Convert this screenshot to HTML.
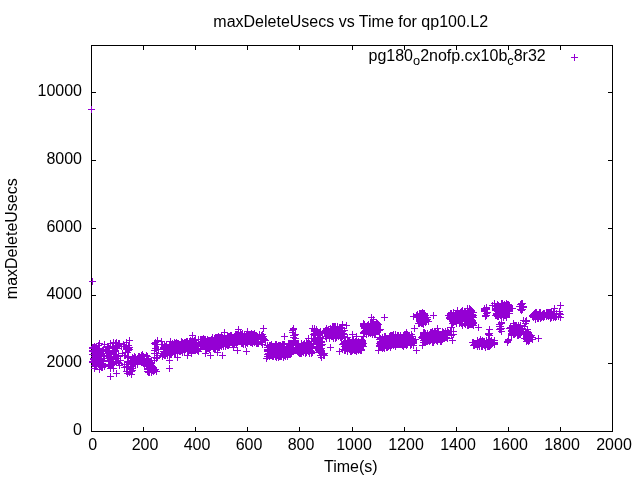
<!DOCTYPE html>
<html><head><meta charset="utf-8">
<style>
html,body{margin:0;padding:0;background:#fff;width:640px;height:480px;overflow:hidden}
svg{display:block;will-change:transform}
text{font-family:"Liberation Sans",sans-serif;font-size:16px;fill:#000}
</style></head><body>
<svg width="640" height="480" viewBox="0 0 640 480">
<rect width="640" height="480" fill="#fff"/>
<g stroke="#000" stroke-width="1" fill="none" shape-rendering="crispEdges">
<path d="M91.5 45.5H612.5V431.5H91.5Z"/>
<path d="M92 363.5h4M608 363.5h4M92 295.5h4M608 295.5h4M92 228.5h4M608 228.5h4M92 160.5h4M608 160.5h4M92 92.5h4M608 92.5h4M143.5 427v4M143.5 46v4M195.5 427v4M195.5 46v4M247.5 427v4M247.5 46v4M299.5 427v4M299.5 46v4M352.5 427v4M352.5 46v4M404.5 427v4M404.5 46v4M456.5 427v4M456.5 46v4M508.5 427v4M508.5 46v4M560.5 427v4M560.5 46v4"/>
</g>
<g text-anchor="end">
<text x="82" y="435">0</text>
<text x="82" y="367">2000</text>
<text x="82" y="299">4000</text>
<text x="82" y="232">6000</text>
<text x="82" y="164">8000</text>
<text x="82" y="96">10000</text>
</g>
<g text-anchor="middle">
<text x="92.6" y="450">0</text>
<text x="145" y="450">200</text>
<text x="197" y="450">400</text>
<text x="249" y="450">600</text>
<text x="301" y="450">800</text>
<text x="354" y="450">1000</text>
<text x="406" y="450">1200</text>
<text x="458" y="450">1400</text>
<text x="510" y="450">1600</text>
<text x="562" y="450">1800</text>
<text x="614" y="450">2000</text>
<text x="350.7" y="26.7">maxDeleteUsecs vs Time for qp100.L2</text>
<text x="350.8" y="472">Time(s)</text>
</g>
<text transform="translate(17,238.7) rotate(-90)" text-anchor="middle">maxDeleteUsecs</text>
<text x="368.5" y="60.5">pg180<tspan dy="4.5" font-size="12.8">o</tspan><tspan dy="-4.5">2nofp.cx10b</tspan><tspan dy="4.5" font-size="12.8">c</tspan><tspan dy="-4.5">8r32</tspan></text>
<g stroke="#9400d3" stroke-width="1" fill="none" shape-rendering="crispEdges">
<path d="M571 57.5h7M574.5 54v7"/>
<path d="M88 109.5h7M91.5 106v7M89 281.5h7M92.5 278v7M89 347.5h7M92.5 344v7M89 348.5h7M92.5 345v7M89 350.5h7M92.5 347v7M89 351.5h7M92.5 348v7M89 354.5h7M92.5 351v7M89 361.5h7M92.5 358v7M89 362.5h7M92.5 359v7M90 347.5h7M93.5 344v7M90 354.5h7M93.5 351v7M90 358.5h7M93.5 355v7M90 359.5h7M93.5 356v7M91 346.5h7M94.5 343v7M91 352.5h7M94.5 349v7M91 356.5h7M94.5 353v7M91 359.5h7M94.5 356v7M91 360.5h7M94.5 357v7M91 361.5h7M94.5 358v7M91 365.5h7M94.5 362v7M91 368.5h7M94.5 365v7M92 347.5h7M95.5 344v7M92 352.5h7M95.5 349v7M92 355.5h7M95.5 352v7M92 358.5h7M95.5 355v7M92 359.5h7M95.5 356v7M92 360.5h7M95.5 357v7M92 362.5h7M95.5 359v7M92 363.5h7M95.5 360v7M92 366.5h7M95.5 363v7M93 347.5h7M96.5 344v7M93 349.5h7M96.5 346v7M93 352.5h7M96.5 349v7M93 359.5h7M96.5 356v7M93 362.5h7M96.5 359v7M93 364.5h7M96.5 361v7M93 365.5h7M96.5 362v7M93 366.5h7M96.5 363v7M94 348.5h7M97.5 345v7M94 352.5h7M97.5 349v7M94 353.5h7M97.5 350v7M94 357.5h7M97.5 354v7M95 345.5h7M98.5 342v7M95 350.5h7M98.5 347v7M95 353.5h7M98.5 350v7M95 354.5h7M98.5 351v7M95 357.5h7M98.5 354v7M95 358.5h7M98.5 355v7M95 359.5h7M98.5 356v7M95 362.5h7M98.5 359v7M95 364.5h7M98.5 361v7M96 343.5h7M99.5 340v7M96 351.5h7M99.5 348v7M96 354.5h7M99.5 351v7M96 361.5h7M99.5 358v7M96 364.5h7M99.5 361v7M96 369.5h7M99.5 366v7M97 352.5h7M100.5 349v7M97 354.5h7M100.5 351v7M97 359.5h7M100.5 356v7M97 360.5h7M100.5 357v7M97 365.5h7M100.5 362v7M98 351.5h7M101.5 348v7M98 355.5h7M101.5 352v7M98 358.5h7M101.5 355v7M98 364.5h7M101.5 361v7M98 367.5h7M101.5 364v7M99 350.5h7M102.5 347v7M99 363.5h7M102.5 360v7M99 365.5h7M102.5 362v7M99 367.5h7M102.5 364v7M100 349.5h7M103.5 346v7M100 358.5h7M103.5 355v7M100 360.5h7M103.5 357v7M100 361.5h7M103.5 358v7M101 344.5h7M104.5 341v7M101 356.5h7M104.5 353v7M101 366.5h7M104.5 363v7M103 353.5h7M106.5 350v7M103 355.5h7M106.5 352v7M104 347.5h7M107.5 344v7M104 356.5h7M107.5 353v7M104 358.5h7M107.5 355v7M105 346.5h7M108.5 343v7M105 347.5h7M108.5 344v7M105 348.5h7M108.5 345v7M105 351.5h7M108.5 348v7M105 352.5h7M108.5 349v7M105 364.5h7M108.5 361v7M106 348.5h7M109.5 345v7M106 350.5h7M109.5 347v7M106 351.5h7M109.5 348v7M106 357.5h7M109.5 354v7M106 360.5h7M109.5 357v7M106 365.5h7M109.5 362v7M107 343.5h7M110.5 340v7M107 353.5h7M110.5 350v7M107 356.5h7M110.5 353v7M107 357.5h7M110.5 354v7M107 360.5h7M110.5 357v7M107 365.5h7M110.5 362v7M107 368.5h7M110.5 365v7M107 376.5h7M110.5 373v7M108 354.5h7M111.5 351v7M108 356.5h7M111.5 353v7M108 359.5h7M111.5 356v7M108 365.5h7M111.5 362v7M109 347.5h7M112.5 344v7M109 361.5h7M112.5 358v7M109 362.5h7M112.5 359v7M109 363.5h7M112.5 360v7M109 364.5h7M112.5 361v7M110 342.5h7M113.5 339v7M110 343.5h7M113.5 340v7M110 348.5h7M113.5 345v7M110 350.5h7M113.5 347v7M110 352.5h7M113.5 349v7M110 357.5h7M113.5 354v7M110 358.5h7M113.5 355v7M110 359.5h7M113.5 356v7M110 361.5h7M113.5 358v7M110 368.5h7M113.5 365v7M111 348.5h7M114.5 345v7M111 351.5h7M114.5 348v7M111 354.5h7M114.5 351v7M112 343.5h7M115.5 340v7M112 346.5h7M115.5 343v7M112 348.5h7M115.5 345v7M112 350.5h7M115.5 347v7M112 351.5h7M115.5 348v7M112 358.5h7M115.5 355v7M112 359.5h7M115.5 356v7M113 342.5h7M116.5 339v7M113 347.5h7M116.5 344v7M113 355.5h7M116.5 352v7M113 356.5h7M116.5 353v7M113 361.5h7M116.5 358v7M113 373.5h7M116.5 370v7M114 345.5h7M117.5 342v7M114 346.5h7M117.5 343v7M114 348.5h7M117.5 345v7M114 358.5h7M117.5 355v7M115 343.5h7M118.5 340v7M115 344.5h7M118.5 341v7M115 355.5h7M118.5 352v7M115 356.5h7M118.5 353v7M115 360.5h7M118.5 357v7M115 362.5h7M118.5 359v7M116 343.5h7M119.5 340v7M116 363.5h7M119.5 360v7M116 365.5h7M119.5 362v7M117 360.5h7M120.5 357v7M118 346.5h7M121.5 343v7M119 353.5h7M122.5 350v7M120 344.5h7M123.5 341v7M121 346.5h7M124.5 343v7M121 355.5h7M124.5 352v7M121 364.5h7M124.5 361v7M121 367.5h7M124.5 364v7M122 352.5h7M125.5 349v7M122 355.5h7M125.5 352v7M123 342.5h7M126.5 339v7M123 347.5h7M126.5 344v7M123 348.5h7M126.5 345v7M123 349.5h7M126.5 346v7M123 366.5h7M126.5 363v7M123 371.5h7M126.5 368v7M124 352.5h7M127.5 349v7M124 356.5h7M127.5 353v7M124 361.5h7M127.5 358v7M124 367.5h7M127.5 364v7M124 371.5h7M127.5 368v7M124 373.5h7M127.5 370v7M125 345.5h7M128.5 342v7M125 348.5h7M128.5 345v7M125 350.5h7M128.5 347v7M125 357.5h7M128.5 354v7M125 362.5h7M128.5 359v7M125 364.5h7M128.5 361v7M126 340.5h7M129.5 337v7M126 347.5h7M129.5 344v7M126 349.5h7M129.5 346v7M126 372.5h7M129.5 369v7M127 360.5h7M130.5 357v7M127 361.5h7M130.5 358v7M127 363.5h7M130.5 360v7M127 364.5h7M130.5 361v7M127 368.5h7M130.5 365v7M127 369.5h7M130.5 366v7M128 363.5h7M131.5 360v7M128 364.5h7M131.5 361v7M128 371.5h7M131.5 368v7M128 374.5h7M131.5 371v7M129 357.5h7M132.5 354v7M129 358.5h7M132.5 355v7M129 363.5h7M132.5 360v7M129 368.5h7M132.5 365v7M129 370.5h7M132.5 367v7M130 358.5h7M133.5 355v7M130 359.5h7M133.5 356v7M130 362.5h7M133.5 359v7M130 364.5h7M133.5 361v7M131 356.5h7M134.5 353v7M131 358.5h7M134.5 355v7M131 359.5h7M134.5 356v7M131 360.5h7M134.5 357v7M131 361.5h7M134.5 358v7M131 363.5h7M134.5 360v7M132 357.5h7M135.5 354v7M132 362.5h7M135.5 359v7M132 363.5h7M135.5 360v7M132 364.5h7M135.5 361v7M133 360.5h7M136.5 357v7M134 358.5h7M137.5 355v7M134 363.5h7M137.5 360v7M134 364.5h7M137.5 361v7M135 356.5h7M138.5 353v7M135 360.5h7M138.5 357v7M136 356.5h7M139.5 353v7M136 358.5h7M139.5 355v7M136 359.5h7M139.5 356v7M136 360.5h7M139.5 357v7M136 361.5h7M139.5 358v7M137 359.5h7M140.5 356v7M137 361.5h7M140.5 358v7M138 355.5h7M141.5 352v7M138 356.5h7M141.5 353v7M138 358.5h7M141.5 355v7M138 359.5h7M141.5 356v7M138 362.5h7M141.5 359v7M139 354.5h7M142.5 351v7M139 356.5h7M142.5 353v7M139 361.5h7M142.5 358v7M139 362.5h7M142.5 359v7M140 356.5h7M143.5 353v7M140 358.5h7M143.5 355v7M141 358.5h7M144.5 355v7M141 359.5h7M144.5 356v7M141 360.5h7M144.5 357v7M141 361.5h7M144.5 358v7M141 362.5h7M144.5 359v7M141 363.5h7M144.5 360v7M141 364.5h7M144.5 361v7M143 355.5h7M146.5 352v7M143 356.5h7M146.5 353v7M143 360.5h7M146.5 357v7M143 361.5h7M146.5 358v7M143 365.5h7M146.5 362v7M143 366.5h7M146.5 363v7M144 356.5h7M147.5 353v7M144 361.5h7M147.5 358v7M144 362.5h7M147.5 359v7M144 363.5h7M147.5 360v7M144 366.5h7M147.5 363v7M144 368.5h7M147.5 365v7M144 369.5h7M147.5 366v7M144 371.5h7M147.5 368v7M145 358.5h7M148.5 355v7M145 360.5h7M148.5 357v7M145 361.5h7M148.5 358v7M145 362.5h7M148.5 359v7M145 363.5h7M148.5 360v7M145 364.5h7M148.5 361v7M145 368.5h7M148.5 365v7M145 369.5h7M148.5 366v7M145 371.5h7M148.5 368v7M145 372.5h7M148.5 369v7M146 361.5h7M149.5 358v7M146 363.5h7M149.5 360v7M146 364.5h7M149.5 361v7M146 368.5h7M149.5 365v7M146 372.5h7M149.5 369v7M147 362.5h7M150.5 359v7M147 364.5h7M150.5 361v7M148 360.5h7M151.5 357v7M148 363.5h7M151.5 360v7M148 365.5h7M151.5 362v7M148 366.5h7M151.5 363v7M148 369.5h7M151.5 366v7M148 372.5h7M151.5 369v7M149 366.5h7M152.5 363v7M149 368.5h7M152.5 365v7M149 370.5h7M152.5 367v7M150 367.5h7M153.5 364v7M150 369.5h7M153.5 366v7M150 371.5h7M153.5 368v7M151 343.5h7M154.5 340v7M151 350.5h7M154.5 347v7M151 353.5h7M154.5 350v7M151 357.5h7M154.5 354v7M151 360.5h7M154.5 357v7M151 370.5h7M154.5 367v7M152 342.5h7M155.5 339v7M152 344.5h7M155.5 341v7M152 348.5h7M155.5 345v7M152 369.5h7M155.5 366v7M153 344.5h7M156.5 341v7M153 353.5h7M156.5 350v7M153 358.5h7M156.5 355v7M153 371.5h7M156.5 368v7M154 340.5h7M157.5 337v7M154 344.5h7M157.5 341v7M154 355.5h7M157.5 352v7M154 357.5h7M157.5 354v7M155 349.5h7M158.5 346v7M158 341.5h7M161.5 338v7M159 344.5h7M162.5 341v7M159 356.5h7M162.5 353v7M160 347.5h7M163.5 344v7M160 348.5h7M163.5 345v7M160 351.5h7M163.5 348v7M160 353.5h7M163.5 350v7M160 354.5h7M163.5 351v7M161 345.5h7M164.5 342v7M161 346.5h7M164.5 343v7M161 347.5h7M164.5 344v7M161 348.5h7M164.5 345v7M161 349.5h7M164.5 346v7M161 352.5h7M164.5 349v7M161 353.5h7M164.5 350v7M161 355.5h7M164.5 352v7M162 346.5h7M165.5 343v7M162 351.5h7M165.5 348v7M162 352.5h7M165.5 349v7M162 353.5h7M165.5 350v7M162 355.5h7M165.5 352v7M163 344.5h7M166.5 341v7M163 346.5h7M166.5 343v7M163 348.5h7M166.5 345v7M163 350.5h7M166.5 347v7M163 351.5h7M166.5 348v7M163 353.5h7M166.5 350v7M164 355.5h7M167.5 352v7M165 347.5h7M168.5 344v7M165 350.5h7M168.5 347v7M165 351.5h7M168.5 348v7M166 344.5h7M169.5 341v7M166 347.5h7M169.5 344v7M166 348.5h7M169.5 345v7M166 350.5h7M169.5 347v7M166 351.5h7M169.5 348v7M166 352.5h7M169.5 349v7M166 353.5h7M169.5 350v7M166 360.5h7M169.5 357v7M166 368.5h7M169.5 365v7M167 341.5h7M170.5 338v7M167 347.5h7M170.5 344v7M167 348.5h7M170.5 345v7M167 354.5h7M170.5 351v7M168 345.5h7M171.5 342v7M168 347.5h7M171.5 344v7M168 348.5h7M171.5 345v7M168 354.5h7M171.5 351v7M169 343.5h7M172.5 340v7M169 344.5h7M172.5 341v7M169 345.5h7M172.5 342v7M169 350.5h7M172.5 347v7M169 352.5h7M172.5 349v7M170 344.5h7M173.5 341v7M170 345.5h7M173.5 342v7M170 346.5h7M173.5 343v7M170 351.5h7M173.5 348v7M171 342.5h7M174.5 339v7M171 343.5h7M174.5 340v7M171 346.5h7M174.5 343v7M171 347.5h7M174.5 344v7M171 349.5h7M174.5 346v7M171 350.5h7M174.5 347v7M171 353.5h7M174.5 350v7M172 343.5h7M175.5 340v7M172 345.5h7M175.5 342v7M172 346.5h7M175.5 343v7M172 348.5h7M175.5 345v7M172 350.5h7M175.5 347v7M172 351.5h7M175.5 348v7M172 353.5h7M175.5 350v7M173 342.5h7M176.5 339v7M173 346.5h7M176.5 343v7M173 347.5h7M176.5 344v7M173 350.5h7M176.5 347v7M174 343.5h7M177.5 340v7M174 344.5h7M177.5 341v7M174 347.5h7M177.5 344v7M174 348.5h7M177.5 345v7M174 351.5h7M177.5 348v7M174 353.5h7M177.5 350v7M174 357.5h7M177.5 354v7M175 343.5h7M178.5 340v7M175 349.5h7M178.5 346v7M176 345.5h7M179.5 342v7M176 346.5h7M179.5 343v7M176 349.5h7M179.5 346v7M176 351.5h7M179.5 348v7M177 346.5h7M180.5 343v7M177 347.5h7M180.5 344v7M177 349.5h7M180.5 346v7M177 351.5h7M180.5 348v7M178 341.5h7M181.5 338v7M178 343.5h7M181.5 340v7M178 344.5h7M181.5 341v7M178 348.5h7M181.5 345v7M178 349.5h7M181.5 346v7M178 350.5h7M181.5 347v7M179 342.5h7M182.5 339v7M179 346.5h7M182.5 343v7M179 350.5h7M182.5 347v7M179 352.5h7M182.5 349v7M180 343.5h7M183.5 340v7M180 344.5h7M183.5 341v7M181 342.5h7M184.5 339v7M181 343.5h7M184.5 340v7M181 345.5h7M184.5 342v7M181 347.5h7M184.5 344v7M181 348.5h7M184.5 345v7M181 350.5h7M184.5 347v7M181 351.5h7M184.5 348v7M182 342.5h7M185.5 339v7M182 343.5h7M185.5 340v7M182 344.5h7M185.5 341v7M182 347.5h7M185.5 344v7M182 348.5h7M185.5 345v7M183 341.5h7M186.5 338v7M183 342.5h7M186.5 339v7M184 341.5h7M187.5 338v7M184 343.5h7M187.5 340v7M184 349.5h7M187.5 346v7M184 351.5h7M187.5 348v7M184 355.5h7M187.5 352v7M185 346.5h7M188.5 343v7M185 350.5h7M188.5 347v7M185 351.5h7M188.5 348v7M186 341.5h7M189.5 338v7M186 342.5h7M189.5 339v7M186 344.5h7M189.5 341v7M186 349.5h7M189.5 346v7M186 350.5h7M189.5 347v7M187 340.5h7M190.5 337v7M187 345.5h7M190.5 342v7M187 346.5h7M190.5 343v7M187 349.5h7M190.5 346v7M188 341.5h7M191.5 338v7M188 346.5h7M191.5 343v7M188 348.5h7M191.5 345v7M188 350.5h7M191.5 347v7M188 352.5h7M191.5 349v7M188 353.5h7M191.5 350v7M189 335.5h7M192.5 332v7M189 339.5h7M192.5 336v7M189 342.5h7M192.5 339v7M189 348.5h7M192.5 345v7M190 341.5h7M193.5 338v7M190 344.5h7M193.5 341v7M190 345.5h7M193.5 342v7M190 347.5h7M193.5 344v7M190 349.5h7M193.5 346v7M191 340.5h7M194.5 337v7M191 342.5h7M194.5 339v7M191 343.5h7M194.5 340v7M191 346.5h7M194.5 343v7M191 347.5h7M194.5 344v7M191 349.5h7M194.5 346v7M192 339.5h7M195.5 336v7M192 343.5h7M195.5 340v7M192 346.5h7M195.5 343v7M192 349.5h7M195.5 346v7M192 350.5h7M195.5 347v7M193 343.5h7M196.5 340v7M193 344.5h7M196.5 341v7M193 345.5h7M196.5 342v7M193 349.5h7M196.5 346v7M194 346.5h7M197.5 343v7M194 348.5h7M197.5 345v7M194 349.5h7M197.5 346v7M194 350.5h7M197.5 347v7M195 339.5h7M198.5 336v7M195 342.5h7M198.5 339v7M195 343.5h7M198.5 340v7M195 344.5h7M198.5 341v7M195 346.5h7M198.5 343v7M195 351.5h7M198.5 348v7M197 339.5h7M200.5 336v7M197 343.5h7M200.5 340v7M197 344.5h7M200.5 341v7M197 346.5h7M200.5 343v7M198 339.5h7M201.5 336v7M198 341.5h7M201.5 338v7M198 343.5h7M201.5 340v7M198 344.5h7M201.5 341v7M198 346.5h7M201.5 343v7M199 339.5h7M202.5 336v7M199 343.5h7M202.5 340v7M199 344.5h7M202.5 341v7M199 346.5h7M202.5 343v7M200 338.5h7M203.5 335v7M200 342.5h7M203.5 339v7M200 345.5h7M203.5 342v7M201 339.5h7M204.5 336v7M201 341.5h7M204.5 338v7M201 342.5h7M204.5 339v7M201 343.5h7M204.5 340v7M201 345.5h7M204.5 342v7M202 339.5h7M205.5 336v7M202 344.5h7M205.5 341v7M202 353.5h7M205.5 350v7M203 349.5h7M206.5 346v7M204 339.5h7M207.5 336v7M204 345.5h7M207.5 342v7M204 348.5h7M207.5 345v7M205 340.5h7M208.5 337v7M205 345.5h7M208.5 342v7M205 348.5h7M208.5 345v7M206 340.5h7M209.5 337v7M206 341.5h7M209.5 338v7M206 346.5h7M209.5 343v7M206 349.5h7M209.5 346v7M207 345.5h7M210.5 342v7M207 346.5h7M210.5 343v7M207 347.5h7M210.5 344v7M207 355.5h7M210.5 352v7M208 339.5h7M211.5 336v7M208 340.5h7M211.5 337v7M208 341.5h7M211.5 338v7M208 343.5h7M211.5 340v7M208 345.5h7M211.5 342v7M209 337.5h7M212.5 334v7M209 338.5h7M212.5 335v7M209 341.5h7M212.5 338v7M209 343.5h7M212.5 340v7M209 346.5h7M212.5 343v7M210 342.5h7M213.5 339v7M210 345.5h7M213.5 342v7M210 348.5h7M213.5 345v7M211 338.5h7M214.5 335v7M211 342.5h7M214.5 339v7M211 343.5h7M214.5 340v7M211 344.5h7M214.5 341v7M211 345.5h7M214.5 342v7M211 346.5h7M214.5 343v7M211 348.5h7M214.5 345v7M212 337.5h7M215.5 334v7M212 338.5h7M215.5 335v7M212 339.5h7M215.5 336v7M212 340.5h7M215.5 337v7M212 342.5h7M215.5 339v7M212 343.5h7M215.5 340v7M212 346.5h7M215.5 343v7M212 349.5h7M215.5 346v7M213 337.5h7M216.5 334v7M213 339.5h7M216.5 336v7M213 340.5h7M216.5 337v7M213 341.5h7M216.5 338v7M213 342.5h7M216.5 339v7M213 344.5h7M216.5 341v7M213 345.5h7M216.5 342v7M214 337.5h7M217.5 334v7M214 341.5h7M217.5 338v7M214 345.5h7M217.5 342v7M214 346.5h7M217.5 343v7M214 352.5h7M217.5 349v7M215 336.5h7M218.5 333v7M215 338.5h7M218.5 335v7M215 342.5h7M218.5 339v7M215 343.5h7M218.5 340v7M215 344.5h7M218.5 341v7M215 347.5h7M218.5 344v7M216 337.5h7M219.5 334v7M216 339.5h7M219.5 336v7M216 342.5h7M219.5 339v7M216 343.5h7M219.5 340v7M216 344.5h7M219.5 341v7M216 347.5h7M219.5 344v7M217 337.5h7M220.5 334v7M217 338.5h7M220.5 335v7M217 340.5h7M220.5 337v7M217 343.5h7M220.5 340v7M217 344.5h7M220.5 341v7M217 345.5h7M220.5 342v7M218 336.5h7M221.5 333v7M218 341.5h7M221.5 338v7M218 342.5h7M221.5 339v7M218 344.5h7M221.5 341v7M218 346.5h7M221.5 343v7M219 337.5h7M222.5 334v7M219 339.5h7M222.5 336v7M219 355.5h7M222.5 352v7M220 338.5h7M223.5 335v7M220 342.5h7M223.5 339v7M220 345.5h7M223.5 342v7M220 346.5h7M223.5 343v7M221 332.5h7M224.5 329v7M221 338.5h7M224.5 335v7M221 343.5h7M224.5 340v7M222 338.5h7M225.5 335v7M222 339.5h7M225.5 336v7M222 340.5h7M225.5 337v7M222 343.5h7M225.5 340v7M222 345.5h7M225.5 342v7M222 346.5h7M225.5 343v7M223 339.5h7M226.5 336v7M223 340.5h7M226.5 337v7M223 341.5h7M226.5 338v7M223 343.5h7M226.5 340v7M223 344.5h7M226.5 341v7M224 335.5h7M227.5 332v7M224 336.5h7M227.5 333v7M224 337.5h7M227.5 334v7M224 339.5h7M227.5 336v7M224 340.5h7M227.5 337v7M224 345.5h7M227.5 342v7M225 336.5h7M228.5 333v7M225 337.5h7M228.5 334v7M225 342.5h7M228.5 339v7M225 344.5h7M228.5 341v7M225 345.5h7M228.5 342v7M226 336.5h7M229.5 333v7M226 337.5h7M229.5 334v7M226 340.5h7M229.5 337v7M226 342.5h7M229.5 339v7M226 344.5h7M229.5 341v7M227 335.5h7M230.5 332v7M227 339.5h7M230.5 336v7M227 340.5h7M230.5 337v7M227 341.5h7M230.5 338v7M228 335.5h7M231.5 332v7M228 339.5h7M231.5 336v7M228 341.5h7M231.5 338v7M229 343.5h7M232.5 340v7M230 338.5h7M233.5 335v7M230 340.5h7M233.5 337v7M230 347.5h7M233.5 344v7M231 336.5h7M234.5 333v7M231 340.5h7M234.5 337v7M231 341.5h7M234.5 338v7M231 343.5h7M234.5 340v7M232 334.5h7M235.5 331v7M232 341.5h7M235.5 338v7M232 342.5h7M235.5 339v7M233 334.5h7M236.5 331v7M233 335.5h7M236.5 332v7M233 337.5h7M236.5 334v7M233 339.5h7M236.5 336v7M233 344.5h7M236.5 341v7M234 334.5h7M237.5 331v7M234 335.5h7M237.5 332v7M234 336.5h7M237.5 333v7M234 337.5h7M237.5 334v7M234 340.5h7M237.5 337v7M234 341.5h7M237.5 338v7M234 342.5h7M237.5 339v7M234 350.5h7M237.5 347v7M235 329.5h7M238.5 326v7M235 335.5h7M238.5 332v7M235 337.5h7M238.5 334v7M235 338.5h7M238.5 335v7M235 340.5h7M238.5 337v7M236 335.5h7M239.5 332v7M236 336.5h7M239.5 333v7M236 338.5h7M239.5 335v7M236 339.5h7M239.5 336v7M236 340.5h7M239.5 337v7M236 341.5h7M239.5 338v7M237 333.5h7M240.5 330v7M237 335.5h7M240.5 332v7M237 336.5h7M240.5 333v7M237 340.5h7M240.5 337v7M238 334.5h7M241.5 331v7M238 337.5h7M241.5 334v7M238 338.5h7M241.5 335v7M238 340.5h7M241.5 337v7M238 341.5h7M241.5 338v7M238 343.5h7M241.5 340v7M239 333.5h7M242.5 330v7M239 337.5h7M242.5 334v7M239 339.5h7M242.5 336v7M239 340.5h7M242.5 337v7M239 343.5h7M242.5 340v7M240 336.5h7M243.5 333v7M240 337.5h7M243.5 334v7M240 338.5h7M243.5 335v7M240 340.5h7M243.5 337v7M240 341.5h7M243.5 338v7M240 344.5h7M243.5 341v7M241 334.5h7M244.5 331v7M242 336.5h7M245.5 333v7M242 337.5h7M245.5 334v7M242 341.5h7M245.5 338v7M242 342.5h7M245.5 339v7M242 344.5h7M245.5 341v7M243 334.5h7M246.5 331v7M243 338.5h7M246.5 335v7M243 340.5h7M246.5 337v7M243 342.5h7M246.5 339v7M243 351.5h7M246.5 348v7M244 331.5h7M247.5 328v7M244 333.5h7M247.5 330v7M244 335.5h7M247.5 332v7M244 336.5h7M247.5 333v7M244 337.5h7M247.5 334v7M244 338.5h7M247.5 335v7M244 340.5h7M247.5 337v7M244 343.5h7M247.5 340v7M245 335.5h7M248.5 332v7M245 338.5h7M248.5 335v7M245 340.5h7M248.5 337v7M245 341.5h7M248.5 338v7M246 335.5h7M249.5 332v7M246 336.5h7M249.5 333v7M246 338.5h7M249.5 335v7M246 339.5h7M249.5 336v7M246 340.5h7M249.5 337v7M246 341.5h7M249.5 338v7M247 334.5h7M250.5 331v7M247 335.5h7M250.5 332v7M247 336.5h7M250.5 333v7M247 338.5h7M250.5 335v7M247 342.5h7M250.5 339v7M248 333.5h7M251.5 330v7M248 335.5h7M251.5 332v7M248 337.5h7M251.5 334v7M248 338.5h7M251.5 335v7M248 342.5h7M251.5 339v7M249 334.5h7M252.5 331v7M249 336.5h7M252.5 333v7M249 338.5h7M252.5 335v7M249 339.5h7M252.5 336v7M249 340.5h7M252.5 337v7M249 341.5h7M252.5 338v7M249 343.5h7M252.5 340v7M250 334.5h7M253.5 331v7M250 336.5h7M253.5 333v7M250 337.5h7M253.5 334v7M250 339.5h7M253.5 336v7M250 341.5h7M253.5 338v7M251 333.5h7M254.5 330v7M251 336.5h7M254.5 333v7M251 337.5h7M254.5 334v7M251 340.5h7M254.5 337v7M251 342.5h7M254.5 339v7M252 335.5h7M255.5 332v7M252 337.5h7M255.5 334v7M252 341.5h7M255.5 338v7M253 335.5h7M256.5 332v7M253 338.5h7M256.5 335v7M253 341.5h7M256.5 338v7M253 343.5h7M256.5 340v7M254 342.5h7M257.5 339v7M254 343.5h7M257.5 340v7M255 337.5h7M258.5 334v7M255 342.5h7M258.5 339v7M255 343.5h7M258.5 340v7M256 334.5h7M259.5 331v7M256 335.5h7M259.5 332v7M256 336.5h7M259.5 333v7M257 338.5h7M260.5 335v7M258 335.5h7M261.5 332v7M258 337.5h7M261.5 334v7M258 341.5h7M261.5 338v7M258 342.5h7M261.5 339v7M259 334.5h7M262.5 331v7M259 336.5h7M262.5 333v7M259 338.5h7M262.5 335v7M259 339.5h7M262.5 336v7M259 342.5h7M262.5 339v7M259 344.5h7M262.5 341v7M260 328.5h7M263.5 325v7M260 336.5h7M263.5 333v7M260 338.5h7M263.5 335v7M260 339.5h7M263.5 336v7M261 339.5h7M264.5 336v7M262 340.5h7M265.5 337v7M263 358.5h7M266.5 355v7M264 345.5h7M267.5 342v7M264 347.5h7M267.5 344v7M264 349.5h7M267.5 346v7M264 350.5h7M267.5 347v7M264 351.5h7M267.5 348v7M264 354.5h7M267.5 351v7M264 356.5h7M267.5 353v7M265 353.5h7M268.5 350v7M265 354.5h7M268.5 351v7M266 345.5h7M269.5 342v7M266 346.5h7M269.5 343v7M266 351.5h7M269.5 348v7M266 354.5h7M269.5 351v7M266 356.5h7M269.5 353v7M267 345.5h7M270.5 342v7M267 347.5h7M270.5 344v7M267 348.5h7M270.5 345v7M267 350.5h7M270.5 347v7M267 353.5h7M270.5 350v7M267 355.5h7M270.5 352v7M268 344.5h7M271.5 341v7M268 345.5h7M271.5 342v7M268 346.5h7M271.5 343v7M268 349.5h7M271.5 346v7M268 350.5h7M271.5 347v7M268 353.5h7M271.5 350v7M268 355.5h7M271.5 352v7M269 346.5h7M272.5 343v7M269 347.5h7M272.5 344v7M269 348.5h7M272.5 345v7M269 349.5h7M272.5 346v7M269 350.5h7M272.5 347v7M269 352.5h7M272.5 349v7M269 354.5h7M272.5 351v7M269 355.5h7M272.5 352v7M269 356.5h7M272.5 353v7M270 346.5h7M273.5 343v7M270 348.5h7M273.5 345v7M270 350.5h7M273.5 347v7M270 355.5h7M273.5 352v7M270 356.5h7M273.5 353v7M271 346.5h7M274.5 343v7M271 347.5h7M274.5 344v7M271 349.5h7M274.5 346v7M271 350.5h7M274.5 347v7M271 351.5h7M274.5 348v7M271 353.5h7M274.5 350v7M271 354.5h7M274.5 351v7M272 344.5h7M275.5 341v7M272 347.5h7M275.5 344v7M272 348.5h7M275.5 345v7M272 351.5h7M275.5 348v7M272 354.5h7M275.5 351v7M272 355.5h7M275.5 352v7M272 356.5h7M275.5 353v7M273 344.5h7M276.5 341v7M273 347.5h7M276.5 344v7M273 351.5h7M276.5 348v7M273 353.5h7M276.5 350v7M273 354.5h7M276.5 351v7M273 357.5h7M276.5 354v7M274 346.5h7M277.5 343v7M274 350.5h7M277.5 347v7M274 351.5h7M277.5 348v7M274 354.5h7M277.5 351v7M274 355.5h7M277.5 352v7M275 345.5h7M278.5 342v7M275 346.5h7M278.5 343v7M275 349.5h7M278.5 346v7M275 350.5h7M278.5 347v7M275 353.5h7M278.5 350v7M275 356.5h7M278.5 353v7M275 357.5h7M278.5 354v7M276 345.5h7M279.5 342v7M276 346.5h7M279.5 343v7M276 350.5h7M279.5 347v7M276 354.5h7M279.5 351v7M276 356.5h7M279.5 353v7M277 345.5h7M280.5 342v7M277 346.5h7M280.5 343v7M277 352.5h7M280.5 349v7M277 356.5h7M280.5 353v7M278 346.5h7M281.5 343v7M278 348.5h7M281.5 345v7M278 349.5h7M281.5 346v7M278 352.5h7M281.5 349v7M278 353.5h7M281.5 350v7M278 354.5h7M281.5 351v7M278 356.5h7M281.5 353v7M279 344.5h7M282.5 341v7M279 347.5h7M282.5 344v7M279 348.5h7M282.5 345v7M279 353.5h7M282.5 350v7M279 354.5h7M282.5 351v7M280 344.5h7M283.5 341v7M280 346.5h7M283.5 343v7M280 354.5h7M283.5 351v7M280 355.5h7M283.5 352v7M280 356.5h7M283.5 353v7M280 357.5h7M283.5 354v7M281 336.5h7M284.5 333v7M281 344.5h7M284.5 341v7M281 346.5h7M284.5 343v7M281 347.5h7M284.5 344v7M281 349.5h7M284.5 346v7M281 350.5h7M284.5 347v7M281 353.5h7M284.5 350v7M281 354.5h7M284.5 351v7M281 355.5h7M284.5 352v7M282 350.5h7M285.5 347v7M282 351.5h7M285.5 348v7M282 355.5h7M285.5 352v7M282 356.5h7M285.5 353v7M283 347.5h7M286.5 344v7M283 349.5h7M286.5 346v7M283 350.5h7M286.5 347v7M284 346.5h7M287.5 343v7M284 351.5h7M287.5 348v7M284 353.5h7M287.5 350v7M284 355.5h7M287.5 352v7M284 356.5h7M287.5 353v7M285 343.5h7M288.5 340v7M285 346.5h7M288.5 343v7M285 347.5h7M288.5 344v7M285 351.5h7M288.5 348v7M285 353.5h7M288.5 350v7M285 354.5h7M288.5 351v7M286 343.5h7M289.5 340v7M286 345.5h7M289.5 342v7M286 346.5h7M289.5 343v7M286 348.5h7M289.5 345v7M286 353.5h7M289.5 350v7M286 354.5h7M289.5 351v7M287 345.5h7M290.5 342v7M287 346.5h7M290.5 343v7M287 349.5h7M290.5 346v7M287 350.5h7M290.5 347v7M287 351.5h7M290.5 348v7M287 353.5h7M290.5 350v7M287 354.5h7M290.5 351v7M288 343.5h7M291.5 340v7M288 349.5h7M291.5 346v7M288 350.5h7M291.5 347v7M288 352.5h7M291.5 349v7M288 353.5h7M291.5 350v7M289 330.5h7M292.5 327v7M289 332.5h7M292.5 329v7M289 344.5h7M292.5 341v7M290 328.5h7M293.5 325v7M290 329.5h7M293.5 326v7M290 335.5h7M293.5 332v7M290 337.5h7M293.5 334v7M290 340.5h7M293.5 337v7M290 341.5h7M293.5 338v7M290 344.5h7M293.5 341v7M290 345.5h7M293.5 342v7M290 347.5h7M293.5 344v7M290 348.5h7M293.5 345v7M290 350.5h7M293.5 347v7M291 335.5h7M294.5 332v7M291 341.5h7M294.5 338v7M291 342.5h7M294.5 339v7M292 334.5h7M295.5 331v7M292 338.5h7M295.5 335v7M292 340.5h7M295.5 337v7M292 342.5h7M295.5 339v7M292 343.5h7M295.5 340v7M292 344.5h7M295.5 341v7M292 350.5h7M295.5 347v7M294 347.5h7M297.5 344v7M294 348.5h7M297.5 345v7M294 351.5h7M297.5 348v7M295 343.5h7M298.5 340v7M295 347.5h7M298.5 344v7M295 348.5h7M298.5 345v7M295 349.5h7M298.5 346v7M295 352.5h7M298.5 349v7M296 346.5h7M299.5 343v7M296 348.5h7M299.5 345v7M296 352.5h7M299.5 349v7M296 353.5h7M299.5 350v7M297 350.5h7M300.5 347v7M297 352.5h7M300.5 349v7M297 353.5h7M300.5 350v7M298 343.5h7M301.5 340v7M298 349.5h7M301.5 346v7M298 350.5h7M301.5 347v7M298 351.5h7M301.5 348v7M298 352.5h7M301.5 349v7M298 353.5h7M301.5 350v7M299 345.5h7M302.5 342v7M299 346.5h7M302.5 343v7M299 347.5h7M302.5 344v7M299 350.5h7M302.5 347v7M299 351.5h7M302.5 348v7M300 344.5h7M303.5 341v7M300 345.5h7M303.5 342v7M300 352.5h7M303.5 349v7M301 343.5h7M304.5 340v7M301 344.5h7M304.5 341v7M301 346.5h7M304.5 343v7M301 347.5h7M304.5 344v7M301 348.5h7M304.5 345v7M302 345.5h7M305.5 342v7M302 346.5h7M305.5 343v7M302 349.5h7M305.5 346v7M302 353.5h7M305.5 350v7M303 342.5h7M306.5 339v7M303 346.5h7M306.5 343v7M303 347.5h7M306.5 344v7M303 348.5h7M306.5 345v7M303 352.5h7M306.5 349v7M304 343.5h7M307.5 340v7M304 344.5h7M307.5 341v7M304 345.5h7M307.5 342v7M304 346.5h7M307.5 343v7M304 347.5h7M307.5 344v7M304 348.5h7M307.5 345v7M304 350.5h7M307.5 347v7M305 338.5h7M308.5 335v7M305 342.5h7M308.5 339v7M305 346.5h7M308.5 343v7M305 350.5h7M308.5 347v7M305 351.5h7M308.5 348v7M306 343.5h7M309.5 340v7M306 347.5h7M309.5 344v7M306 348.5h7M309.5 345v7M306 353.5h7M309.5 350v7M307 345.5h7M310.5 342v7M307 346.5h7M310.5 343v7M307 348.5h7M310.5 345v7M307 350.5h7M310.5 347v7M308 338.5h7M311.5 335v7M308 346.5h7M311.5 343v7M308 347.5h7M311.5 344v7M308 351.5h7M311.5 348v7M308 353.5h7M311.5 350v7M309 328.5h7M312.5 325v7M309 346.5h7M312.5 343v7M309 352.5h7M312.5 349v7M310 334.5h7M313.5 331v7M310 341.5h7M313.5 338v7M311 328.5h7M314.5 325v7M311 329.5h7M314.5 326v7M311 330.5h7M314.5 327v7M311 331.5h7M314.5 328v7M311 333.5h7M314.5 330v7M311 334.5h7M314.5 331v7M311 335.5h7M314.5 332v7M311 339.5h7M314.5 336v7M312 331.5h7M315.5 328v7M312 333.5h7M315.5 330v7M312 335.5h7M315.5 332v7M312 340.5h7M315.5 337v7M313 329.5h7M316.5 326v7M313 330.5h7M316.5 327v7M313 344.5h7M316.5 341v7M313 348.5h7M316.5 345v7M314 331.5h7M317.5 328v7M314 334.5h7M317.5 331v7M314 335.5h7M317.5 332v7M314 337.5h7M317.5 334v7M314 338.5h7M317.5 335v7M314 341.5h7M317.5 338v7M314 342.5h7M317.5 339v7M314 343.5h7M317.5 340v7M314 344.5h7M317.5 341v7M314 346.5h7M317.5 343v7M315 332.5h7M318.5 329v7M315 333.5h7M318.5 330v7M315 335.5h7M318.5 332v7M315 338.5h7M318.5 335v7M315 340.5h7M318.5 337v7M315 343.5h7M318.5 340v7M315 346.5h7M318.5 343v7M315 347.5h7M318.5 344v7M315 348.5h7M318.5 345v7M315 349.5h7M318.5 346v7M315 350.5h7M318.5 347v7M316 334.5h7M319.5 331v7M316 338.5h7M319.5 335v7M316 340.5h7M319.5 337v7M316 341.5h7M319.5 338v7M316 347.5h7M319.5 344v7M316 349.5h7M319.5 346v7M316 350.5h7M319.5 347v7M316 351.5h7M319.5 348v7M316 352.5h7M319.5 349v7M317 331.5h7M320.5 328v7M317 337.5h7M320.5 334v7M317 342.5h7M320.5 339v7M317 345.5h7M320.5 342v7M317 349.5h7M320.5 346v7M317 350.5h7M320.5 347v7M317 352.5h7M320.5 349v7M317 355.5h7M320.5 352v7M318 341.5h7M321.5 338v7M318 342.5h7M321.5 339v7M318 345.5h7M321.5 342v7M318 348.5h7M321.5 345v7M318 352.5h7M321.5 349v7M318 353.5h7M321.5 350v7M318 357.5h7M321.5 354v7M319 338.5h7M322.5 335v7M319 344.5h7M322.5 341v7M320 353.5h7M323.5 350v7M320 354.5h7M323.5 351v7M320 355.5h7M323.5 352v7M321 333.5h7M324.5 330v7M321 353.5h7M324.5 350v7M321 355.5h7M324.5 352v7M322 330.5h7M325.5 327v7M322 331.5h7M325.5 328v7M322 332.5h7M325.5 329v7M322 333.5h7M325.5 330v7M322 336.5h7M325.5 333v7M323 328.5h7M326.5 325v7M323 329.5h7M326.5 326v7M323 332.5h7M326.5 329v7M323 336.5h7M326.5 333v7M323 338.5h7M326.5 335v7M324 330.5h7M327.5 327v7M324 331.5h7M327.5 328v7M324 332.5h7M327.5 329v7M324 333.5h7M327.5 330v7M325 329.5h7M328.5 326v7M325 331.5h7M328.5 328v7M325 332.5h7M328.5 329v7M325 333.5h7M328.5 330v7M326 332.5h7M329.5 329v7M326 334.5h7M329.5 331v7M326 336.5h7M329.5 333v7M326 337.5h7M329.5 334v7M326 338.5h7M329.5 335v7M327 328.5h7M330.5 325v7M327 329.5h7M330.5 326v7M327 331.5h7M330.5 328v7M327 334.5h7M330.5 331v7M327 335.5h7M330.5 332v7M327 347.5h7M330.5 344v7M328 329.5h7M331.5 326v7M328 331.5h7M331.5 328v7M328 332.5h7M331.5 329v7M328 335.5h7M331.5 332v7M328 336.5h7M331.5 333v7M329 326.5h7M332.5 323v7M329 328.5h7M332.5 325v7M329 336.5h7M332.5 333v7M330 326.5h7M333.5 323v7M330 329.5h7M333.5 326v7M330 331.5h7M333.5 328v7M330 335.5h7M333.5 332v7M330 336.5h7M333.5 333v7M330 337.5h7M333.5 334v7M330 338.5h7M333.5 335v7M331 326.5h7M334.5 323v7M331 327.5h7M334.5 324v7M331 329.5h7M334.5 326v7M331 333.5h7M334.5 330v7M331 334.5h7M334.5 331v7M332 326.5h7M335.5 323v7M332 328.5h7M335.5 325v7M332 331.5h7M335.5 328v7M332 334.5h7M335.5 331v7M332 335.5h7M335.5 332v7M332 338.5h7M335.5 335v7M333 330.5h7M336.5 327v7M333 331.5h7M336.5 328v7M333 334.5h7M336.5 331v7M333 335.5h7M336.5 332v7M333 337.5h7M336.5 334v7M334 326.5h7M337.5 323v7M334 327.5h7M337.5 324v7M334 329.5h7M337.5 326v7M334 333.5h7M337.5 330v7M334 334.5h7M337.5 331v7M334 335.5h7M337.5 332v7M335 330.5h7M338.5 327v7M335 331.5h7M338.5 328v7M335 333.5h7M338.5 330v7M335 334.5h7M338.5 331v7M335 336.5h7M338.5 333v7M336 327.5h7M339.5 324v7M336 328.5h7M339.5 325v7M336 331.5h7M339.5 328v7M336 332.5h7M339.5 329v7M336 334.5h7M339.5 331v7M336 335.5h7M339.5 332v7M336 351.5h7M339.5 348v7M337 328.5h7M340.5 325v7M337 330.5h7M340.5 327v7M337 333.5h7M340.5 330v7M337 337.5h7M340.5 334v7M338 327.5h7M341.5 324v7M338 328.5h7M341.5 325v7M338 335.5h7M341.5 332v7M338 336.5h7M341.5 333v7M338 337.5h7M341.5 334v7M338 338.5h7M341.5 335v7M339 324.5h7M342.5 321v7M339 328.5h7M342.5 325v7M339 330.5h7M342.5 327v7M339 331.5h7M342.5 328v7M339 333.5h7M342.5 330v7M339 336.5h7M342.5 333v7M339 344.5h7M342.5 341v7M339 349.5h7M342.5 346v7M340 333.5h7M343.5 330v7M340 334.5h7M343.5 331v7M340 343.5h7M343.5 340v7M340 344.5h7M343.5 341v7M341 330.5h7M344.5 327v7M341 336.5h7M344.5 333v7M341 341.5h7M344.5 338v7M341 342.5h7M344.5 339v7M341 346.5h7M344.5 343v7M341 350.5h7M344.5 347v7M342 341.5h7M345.5 338v7M342 347.5h7M345.5 344v7M342 350.5h7M345.5 347v7M343 325.5h7M346.5 322v7M343 347.5h7M346.5 344v7M343 348.5h7M346.5 345v7M344 337.5h7M347.5 334v7M344 340.5h7M347.5 337v7M344 341.5h7M347.5 338v7M344 345.5h7M347.5 342v7M344 351.5h7M347.5 348v7M345 341.5h7M348.5 338v7M345 344.5h7M348.5 341v7M345 345.5h7M348.5 342v7M346 340.5h7M349.5 337v7M346 341.5h7M349.5 338v7M346 343.5h7M349.5 340v7M346 344.5h7M349.5 341v7M346 345.5h7M349.5 342v7M346 346.5h7M349.5 343v7M346 349.5h7M349.5 346v7M347 343.5h7M350.5 340v7M347 344.5h7M350.5 341v7M347 346.5h7M350.5 343v7M347 349.5h7M350.5 346v7M347 351.5h7M350.5 348v7M348 343.5h7M351.5 340v7M348 344.5h7M351.5 341v7M348 345.5h7M351.5 342v7M348 346.5h7M351.5 343v7M348 347.5h7M351.5 344v7M348 348.5h7M351.5 345v7M348 351.5h7M351.5 348v7M349 334.5h7M352.5 331v7M349 340.5h7M352.5 337v7M349 344.5h7M352.5 341v7M349 346.5h7M352.5 343v7M349 348.5h7M352.5 345v7M349 350.5h7M352.5 347v7M350 339.5h7M353.5 336v7M350 348.5h7M353.5 345v7M350 349.5h7M353.5 346v7M351 342.5h7M354.5 339v7M351 350.5h7M354.5 347v7M352 341.5h7M355.5 338v7M352 342.5h7M355.5 339v7M352 343.5h7M355.5 340v7M352 345.5h7M355.5 342v7M352 346.5h7M355.5 343v7M352 348.5h7M355.5 345v7M352 350.5h7M355.5 347v7M353 336.5h7M356.5 333v7M353 340.5h7M356.5 337v7M353 342.5h7M356.5 339v7M353 345.5h7M356.5 342v7M353 347.5h7M356.5 344v7M353 351.5h7M356.5 348v7M354 342.5h7M357.5 339v7M354 346.5h7M357.5 343v7M354 349.5h7M357.5 346v7M355 341.5h7M358.5 338v7M355 343.5h7M358.5 340v7M355 345.5h7M358.5 342v7M355 346.5h7M358.5 343v7M355 349.5h7M358.5 346v7M355 350.5h7M358.5 347v7M356 342.5h7M359.5 339v7M356 343.5h7M359.5 340v7M356 344.5h7M359.5 341v7M356 345.5h7M359.5 342v7M356 349.5h7M359.5 346v7M357 343.5h7M360.5 340v7M357 350.5h7M360.5 347v7M358 339.5h7M361.5 336v7M358 340.5h7M361.5 337v7M358 341.5h7M361.5 338v7M358 344.5h7M361.5 341v7M358 345.5h7M361.5 342v7M358 346.5h7M361.5 343v7M358 349.5h7M361.5 346v7M358 350.5h7M361.5 347v7M359 340.5h7M362.5 337v7M359 341.5h7M362.5 338v7M359 342.5h7M362.5 339v7M359 344.5h7M362.5 341v7M359 345.5h7M362.5 342v7M360 323.5h7M363.5 320v7M360 324.5h7M363.5 321v7M360 325.5h7M363.5 322v7M360 326.5h7M363.5 323v7M360 332.5h7M363.5 329v7M360 333.5h7M363.5 330v7M360 336.5h7M363.5 333v7M360 343.5h7M363.5 340v7M360 346.5h7M363.5 343v7M361 324.5h7M364.5 321v7M361 327.5h7M364.5 324v7M361 328.5h7M364.5 325v7M361 331.5h7M364.5 328v7M361 332.5h7M364.5 329v7M361 333.5h7M364.5 330v7M362 326.5h7M365.5 323v7M362 327.5h7M365.5 324v7M362 328.5h7M365.5 325v7M362 330.5h7M365.5 327v7M363 329.5h7M366.5 326v7M363 331.5h7M366.5 328v7M363 333.5h7M366.5 330v7M363 334.5h7M366.5 331v7M364 325.5h7M367.5 322v7M364 326.5h7M367.5 323v7M364 329.5h7M367.5 326v7M365 324.5h7M368.5 321v7M365 327.5h7M368.5 324v7M365 329.5h7M368.5 326v7M365 331.5h7M368.5 328v7M365 333.5h7M368.5 330v7M366 327.5h7M369.5 324v7M366 329.5h7M369.5 326v7M366 330.5h7M369.5 327v7M366 332.5h7M369.5 329v7M367 323.5h7M370.5 320v7M367 325.5h7M370.5 322v7M367 329.5h7M370.5 326v7M367 331.5h7M370.5 328v7M367 332.5h7M370.5 329v7M367 333.5h7M370.5 330v7M368 317.5h7M371.5 314v7M368 323.5h7M371.5 320v7M368 329.5h7M371.5 326v7M368 331.5h7M371.5 328v7M368 332.5h7M371.5 329v7M369 323.5h7M372.5 320v7M369 325.5h7M372.5 322v7M369 330.5h7M372.5 327v7M369 333.5h7M372.5 330v7M369 334.5h7M372.5 331v7M370 319.5h7M373.5 316v7M370 322.5h7M373.5 319v7M370 323.5h7M373.5 320v7M370 324.5h7M373.5 321v7M370 326.5h7M373.5 323v7M370 327.5h7M373.5 324v7M370 328.5h7M373.5 325v7M370 331.5h7M373.5 328v7M370 332.5h7M373.5 329v7M371 324.5h7M374.5 321v7M371 326.5h7M374.5 323v7M371 327.5h7M374.5 324v7M371 333.5h7M374.5 330v7M371 334.5h7M374.5 331v7M372 324.5h7M375.5 321v7M372 325.5h7M375.5 322v7M372 330.5h7M375.5 327v7M372 332.5h7M375.5 329v7M372 334.5h7M375.5 331v7M373 322.5h7M376.5 319v7M373 324.5h7M376.5 321v7M373 326.5h7M376.5 323v7M373 328.5h7M376.5 325v7M373 329.5h7M376.5 326v7M373 330.5h7M376.5 327v7M374 323.5h7M377.5 320v7M374 324.5h7M377.5 321v7M374 325.5h7M377.5 322v7M374 327.5h7M377.5 324v7M374 329.5h7M377.5 326v7M375 324.5h7M378.5 321v7M375 330.5h7M378.5 327v7M375 350.5h7M378.5 347v7M376 329.5h7M379.5 326v7M376 330.5h7M379.5 327v7M376 337.5h7M379.5 334v7M376 339.5h7M379.5 336v7M376 343.5h7M379.5 340v7M376 345.5h7M379.5 342v7M376 346.5h7M379.5 343v7M377 329.5h7M380.5 326v7M377 338.5h7M380.5 335v7M377 341.5h7M380.5 338v7M377 342.5h7M380.5 339v7M377 344.5h7M380.5 341v7M377 346.5h7M380.5 343v7M378 342.5h7M381.5 339v7M378 343.5h7M381.5 340v7M378 344.5h7M381.5 341v7M378 345.5h7M381.5 342v7M378 346.5h7M381.5 343v7M378 347.5h7M381.5 344v7M379 337.5h7M382.5 334v7M379 340.5h7M382.5 337v7M379 341.5h7M382.5 338v7M379 345.5h7M382.5 342v7M379 348.5h7M382.5 345v7M380 339.5h7M383.5 336v7M380 340.5h7M383.5 337v7M380 341.5h7M383.5 338v7M380 343.5h7M383.5 340v7M380 347.5h7M383.5 344v7M381 317.5h7M384.5 314v7M381 336.5h7M384.5 333v7M381 337.5h7M384.5 334v7M381 339.5h7M384.5 336v7M381 340.5h7M384.5 337v7M381 343.5h7M384.5 340v7M381 346.5h7M384.5 343v7M381 348.5h7M384.5 345v7M382 336.5h7M385.5 333v7M382 337.5h7M385.5 334v7M382 339.5h7M385.5 336v7M382 341.5h7M385.5 338v7M382 345.5h7M385.5 342v7M383 338.5h7M386.5 335v7M383 342.5h7M386.5 339v7M383 343.5h7M386.5 340v7M383 344.5h7M386.5 341v7M383 346.5h7M386.5 343v7M383 347.5h7M386.5 344v7M384 338.5h7M387.5 335v7M384 340.5h7M387.5 337v7M384 343.5h7M387.5 340v7M384 344.5h7M387.5 341v7M384 347.5h7M387.5 344v7M385 338.5h7M388.5 335v7M385 339.5h7M388.5 336v7M385 341.5h7M388.5 338v7M385 346.5h7M388.5 343v7M386 336.5h7M389.5 333v7M386 340.5h7M389.5 337v7M386 341.5h7M389.5 338v7M386 344.5h7M389.5 341v7M386 345.5h7M389.5 342v7M387 335.5h7M390.5 332v7M387 337.5h7M390.5 334v7M387 339.5h7M390.5 336v7M387 342.5h7M390.5 339v7M387 346.5h7M390.5 343v7M387 347.5h7M390.5 344v7M388 335.5h7M391.5 332v7M388 336.5h7M391.5 333v7M388 337.5h7M391.5 334v7M388 339.5h7M391.5 336v7M388 340.5h7M391.5 337v7M388 342.5h7M391.5 339v7M388 343.5h7M391.5 340v7M388 345.5h7M391.5 342v7M389 335.5h7M392.5 332v7M389 340.5h7M392.5 337v7M389 342.5h7M392.5 339v7M389 343.5h7M392.5 340v7M390 334.5h7M393.5 331v7M390 337.5h7M393.5 334v7M390 339.5h7M393.5 336v7M390 344.5h7M393.5 341v7M390 345.5h7M393.5 342v7M391 337.5h7M394.5 334v7M391 344.5h7M394.5 341v7M392 334.5h7M395.5 331v7M392 336.5h7M395.5 333v7M392 337.5h7M395.5 334v7M392 341.5h7M395.5 338v7M392 342.5h7M395.5 339v7M392 344.5h7M395.5 341v7M392 345.5h7M395.5 342v7M392 346.5h7M395.5 343v7M393 337.5h7M396.5 334v7M393 339.5h7M396.5 336v7M393 340.5h7M396.5 337v7M393 341.5h7M396.5 338v7M393 342.5h7M396.5 339v7M393 343.5h7M396.5 340v7M393 344.5h7M396.5 341v7M394 335.5h7M397.5 332v7M394 337.5h7M397.5 334v7M394 343.5h7M397.5 340v7M394 344.5h7M397.5 341v7M395 335.5h7M398.5 332v7M395 337.5h7M398.5 334v7M395 341.5h7M398.5 338v7M395 342.5h7M398.5 339v7M395 343.5h7M398.5 340v7M395 344.5h7M398.5 341v7M396 337.5h7M399.5 334v7M396 340.5h7M399.5 337v7M396 342.5h7M399.5 339v7M396 343.5h7M399.5 340v7M396 344.5h7M399.5 341v7M397 335.5h7M400.5 332v7M397 337.5h7M400.5 334v7M397 338.5h7M400.5 335v7M397 344.5h7M400.5 341v7M398 339.5h7M401.5 336v7M398 341.5h7M401.5 338v7M398 344.5h7M401.5 341v7M399 340.5h7M402.5 337v7M399 344.5h7M402.5 341v7M399 345.5h7M402.5 342v7M400 335.5h7M403.5 332v7M400 337.5h7M403.5 334v7M400 338.5h7M403.5 335v7M400 339.5h7M403.5 336v7M400 340.5h7M403.5 337v7M400 341.5h7M403.5 338v7M400 343.5h7M403.5 340v7M400 346.5h7M403.5 343v7M401 334.5h7M404.5 331v7M401 336.5h7M404.5 333v7M401 338.5h7M404.5 335v7M401 340.5h7M404.5 337v7M401 342.5h7M404.5 339v7M401 344.5h7M404.5 341v7M402 334.5h7M405.5 331v7M402 336.5h7M405.5 333v7M402 338.5h7M405.5 335v7M402 339.5h7M405.5 336v7M402 342.5h7M405.5 339v7M402 343.5h7M405.5 340v7M402 344.5h7M405.5 341v7M403 332.5h7M406.5 329v7M403 336.5h7M406.5 333v7M403 337.5h7M406.5 334v7M403 342.5h7M406.5 339v7M403 344.5h7M406.5 341v7M403 345.5h7M406.5 342v7M404 334.5h7M407.5 331v7M404 340.5h7M407.5 337v7M404 342.5h7M407.5 339v7M404 344.5h7M407.5 341v7M405 336.5h7M408.5 333v7M405 339.5h7M408.5 336v7M405 341.5h7M408.5 338v7M405 342.5h7M408.5 339v7M406 336.5h7M409.5 333v7M406 339.5h7M409.5 336v7M406 341.5h7M409.5 338v7M406 342.5h7M409.5 339v7M407 338.5h7M410.5 335v7M407 339.5h7M410.5 336v7M407 341.5h7M410.5 338v7M407 342.5h7M410.5 339v7M407 345.5h7M410.5 342v7M408 334.5h7M411.5 331v7M408 338.5h7M411.5 335v7M408 340.5h7M411.5 337v7M408 344.5h7M411.5 341v7M409 336.5h7M412.5 333v7M409 340.5h7M412.5 337v7M409 341.5h7M412.5 338v7M410 316.5h7M413.5 313v7M410 340.5h7M413.5 337v7M410 341.5h7M413.5 338v7M410 342.5h7M413.5 339v7M410 343.5h7M413.5 340v7M410 345.5h7M413.5 342v7M411 328.5h7M414.5 325v7M412 339.5h7M415.5 336v7M413 315.5h7M416.5 312v7M413 350.5h7M416.5 347v7M414 314.5h7M417.5 311v7M414 316.5h7M417.5 313v7M414 317.5h7M417.5 314v7M415 316.5h7M418.5 313v7M415 317.5h7M418.5 314v7M415 323.5h7M418.5 320v7M416 313.5h7M419.5 310v7M416 319.5h7M419.5 316v7M416 320.5h7M419.5 317v7M416 321.5h7M419.5 318v7M416 323.5h7M419.5 320v7M417 313.5h7M420.5 310v7M417 315.5h7M420.5 312v7M417 318.5h7M420.5 315v7M417 319.5h7M420.5 316v7M417 320.5h7M420.5 317v7M417 321.5h7M420.5 318v7M417 322.5h7M420.5 319v7M418 313.5h7M421.5 310v7M418 316.5h7M421.5 313v7M418 318.5h7M421.5 315v7M418 320.5h7M421.5 317v7M418 321.5h7M421.5 318v7M418 323.5h7M421.5 320v7M418 337.5h7M421.5 334v7M419 312.5h7M422.5 309v7M419 313.5h7M422.5 310v7M419 314.5h7M422.5 311v7M419 318.5h7M422.5 315v7M419 319.5h7M422.5 316v7M419 322.5h7M422.5 319v7M419 323.5h7M422.5 320v7M419 336.5h7M422.5 333v7M419 338.5h7M422.5 335v7M419 345.5h7M422.5 342v7M420 313.5h7M423.5 310v7M420 318.5h7M423.5 315v7M420 320.5h7M423.5 317v7M420 323.5h7M423.5 320v7M420 324.5h7M423.5 321v7M420 332.5h7M423.5 329v7M420 333.5h7M423.5 330v7M420 334.5h7M423.5 331v7M420 335.5h7M423.5 332v7M420 337.5h7M423.5 334v7M420 338.5h7M423.5 335v7M420 340.5h7M423.5 337v7M420 342.5h7M423.5 339v7M421 313.5h7M424.5 310v7M421 315.5h7M424.5 312v7M421 316.5h7M424.5 313v7M421 317.5h7M424.5 314v7M421 318.5h7M424.5 315v7M421 319.5h7M424.5 316v7M421 321.5h7M424.5 318v7M421 332.5h7M424.5 329v7M421 333.5h7M424.5 330v7M421 335.5h7M424.5 332v7M421 337.5h7M424.5 334v7M421 339.5h7M424.5 336v7M421 342.5h7M424.5 339v7M422 315.5h7M425.5 312v7M422 319.5h7M425.5 316v7M422 322.5h7M425.5 319v7M422 333.5h7M425.5 330v7M422 334.5h7M425.5 331v7M422 339.5h7M425.5 336v7M422 341.5h7M425.5 338v7M423 317.5h7M426.5 314v7M423 320.5h7M426.5 317v7M423 336.5h7M426.5 333v7M423 339.5h7M426.5 336v7M423 341.5h7M426.5 338v7M424 317.5h7M427.5 314v7M424 319.5h7M427.5 316v7M424 333.5h7M427.5 330v7M424 340.5h7M427.5 337v7M424 341.5h7M427.5 338v7M425 321.5h7M428.5 318v7M425 337.5h7M428.5 334v7M425 338.5h7M428.5 335v7M425 340.5h7M428.5 337v7M426 336.5h7M429.5 333v7M426 337.5h7M429.5 334v7M426 339.5h7M429.5 336v7M426 341.5h7M429.5 338v7M427 332.5h7M430.5 329v7M427 335.5h7M430.5 332v7M427 339.5h7M430.5 336v7M427 340.5h7M430.5 337v7M428 332.5h7M431.5 329v7M428 334.5h7M431.5 331v7M428 335.5h7M431.5 332v7M428 336.5h7M431.5 333v7M428 337.5h7M431.5 334v7M429 331.5h7M432.5 328v7M429 335.5h7M432.5 332v7M429 336.5h7M432.5 333v7M429 337.5h7M432.5 334v7M429 338.5h7M432.5 335v7M429 339.5h7M432.5 336v7M429 342.5h7M432.5 339v7M430 315.5h7M433.5 312v7M430 333.5h7M433.5 330v7M430 337.5h7M433.5 334v7M430 338.5h7M433.5 335v7M430 339.5h7M433.5 336v7M430 340.5h7M433.5 337v7M430 342.5h7M433.5 339v7M431 331.5h7M434.5 328v7M431 339.5h7M434.5 336v7M431 340.5h7M434.5 337v7M432 331.5h7M435.5 328v7M432 332.5h7M435.5 329v7M432 334.5h7M435.5 331v7M432 335.5h7M435.5 332v7M432 337.5h7M435.5 334v7M432 339.5h7M435.5 336v7M433 333.5h7M436.5 330v7M433 334.5h7M436.5 331v7M433 335.5h7M436.5 332v7M433 336.5h7M436.5 333v7M433 338.5h7M436.5 335v7M433 340.5h7M436.5 337v7M434 328.5h7M437.5 325v7M434 332.5h7M437.5 329v7M434 333.5h7M437.5 330v7M434 335.5h7M437.5 332v7M434 339.5h7M437.5 336v7M434 340.5h7M437.5 337v7M434 341.5h7M437.5 338v7M435 331.5h7M438.5 328v7M435 332.5h7M438.5 329v7M435 339.5h7M438.5 336v7M436 334.5h7M439.5 331v7M436 336.5h7M439.5 333v7M436 337.5h7M439.5 334v7M436 338.5h7M439.5 335v7M436 339.5h7M439.5 336v7M437 335.5h7M440.5 332v7M437 336.5h7M440.5 333v7M437 339.5h7M440.5 336v7M437 340.5h7M440.5 337v7M437 341.5h7M440.5 338v7M438 337.5h7M441.5 334v7M438 341.5h7M441.5 338v7M439 331.5h7M442.5 328v7M439 333.5h7M442.5 330v7M439 334.5h7M442.5 331v7M439 336.5h7M442.5 333v7M439 337.5h7M442.5 334v7M439 338.5h7M442.5 335v7M439 339.5h7M442.5 336v7M440 332.5h7M443.5 329v7M440 335.5h7M443.5 332v7M440 336.5h7M443.5 333v7M440 338.5h7M443.5 335v7M441 333.5h7M444.5 330v7M441 335.5h7M444.5 332v7M441 337.5h7M444.5 334v7M442 331.5h7M445.5 328v7M442 333.5h7M445.5 330v7M442 334.5h7M445.5 331v7M442 337.5h7M445.5 334v7M443 333.5h7M446.5 330v7M443 334.5h7M446.5 331v7M443 335.5h7M446.5 332v7M443 337.5h7M446.5 334v7M444 330.5h7M447.5 327v7M444 332.5h7M447.5 329v7M444 333.5h7M447.5 330v7M444 338.5h7M447.5 335v7M445 315.5h7M448.5 312v7M445 332.5h7M448.5 329v7M446 315.5h7M449.5 312v7M446 317.5h7M449.5 314v7M446 318.5h7M449.5 315v7M447 313.5h7M450.5 310v7M447 314.5h7M450.5 311v7M447 316.5h7M450.5 313v7M447 318.5h7M450.5 315v7M447 319.5h7M450.5 316v7M447 331.5h7M450.5 328v7M448 313.5h7M451.5 310v7M448 317.5h7M451.5 314v7M448 318.5h7M451.5 315v7M448 319.5h7M451.5 316v7M448 327.5h7M451.5 324v7M448 335.5h7M451.5 332v7M449 316.5h7M452.5 313v7M449 317.5h7M452.5 314v7M449 319.5h7M452.5 316v7M449 323.5h7M452.5 320v7M449 340.5h7M452.5 337v7M450 312.5h7M453.5 309v7M450 314.5h7M453.5 311v7M450 316.5h7M453.5 313v7M450 317.5h7M453.5 314v7M450 322.5h7M453.5 319v7M450 331.5h7M453.5 328v7M450 334.5h7M453.5 331v7M451 316.5h7M454.5 313v7M451 318.5h7M454.5 315v7M451 321.5h7M454.5 318v7M452 314.5h7M455.5 311v7M452 321.5h7M455.5 318v7M453 314.5h7M456.5 311v7M453 315.5h7M456.5 312v7M453 319.5h7M456.5 316v7M453 321.5h7M456.5 318v7M453 322.5h7M456.5 319v7M453 323.5h7M456.5 320v7M454 310.5h7M457.5 307v7M454 313.5h7M457.5 310v7M454 314.5h7M457.5 311v7M454 315.5h7M457.5 312v7M454 320.5h7M457.5 317v7M455 315.5h7M458.5 312v7M456 313.5h7M459.5 310v7M456 314.5h7M459.5 311v7M456 315.5h7M459.5 312v7M456 319.5h7M459.5 316v7M456 322.5h7M459.5 319v7M456 323.5h7M459.5 320v7M457 312.5h7M460.5 309v7M457 318.5h7M460.5 315v7M457 319.5h7M460.5 316v7M457 321.5h7M460.5 318v7M458 311.5h7M461.5 308v7M458 313.5h7M461.5 310v7M458 316.5h7M461.5 313v7M458 318.5h7M461.5 315v7M458 323.5h7M461.5 320v7M459 310.5h7M462.5 307v7M459 312.5h7M462.5 309v7M459 314.5h7M462.5 311v7M459 320.5h7M462.5 317v7M459 321.5h7M462.5 318v7M459 323.5h7M462.5 320v7M459 325.5h7M462.5 322v7M460 313.5h7M463.5 310v7M460 316.5h7M463.5 313v7M460 318.5h7M463.5 315v7M461 311.5h7M464.5 308v7M461 313.5h7M464.5 310v7M461 315.5h7M464.5 312v7M461 317.5h7M464.5 314v7M461 320.5h7M464.5 317v7M461 323.5h7M464.5 320v7M462 311.5h7M465.5 308v7M462 312.5h7M465.5 309v7M462 313.5h7M465.5 310v7M462 314.5h7M465.5 311v7M462 320.5h7M465.5 317v7M462 321.5h7M465.5 318v7M462 323.5h7M465.5 320v7M462 324.5h7M465.5 321v7M463 313.5h7M466.5 310v7M463 314.5h7M466.5 311v7M463 315.5h7M466.5 312v7M463 318.5h7M466.5 315v7M463 319.5h7M466.5 316v7M463 320.5h7M466.5 317v7M463 321.5h7M466.5 318v7M464 308.5h7M467.5 305v7M464 311.5h7M467.5 308v7M464 312.5h7M467.5 309v7M464 315.5h7M467.5 312v7M464 317.5h7M467.5 314v7M464 318.5h7M467.5 315v7M464 319.5h7M467.5 316v7M464 321.5h7M467.5 318v7M464 323.5h7M467.5 320v7M464 325.5h7M467.5 322v7M465 313.5h7M468.5 310v7M465 314.5h7M468.5 311v7M465 317.5h7M468.5 314v7M465 318.5h7M468.5 315v7M465 319.5h7M468.5 316v7M465 320.5h7M468.5 317v7M465 321.5h7M468.5 318v7M465 322.5h7M468.5 319v7M465 323.5h7M468.5 320v7M465 324.5h7M468.5 321v7M465 325.5h7M468.5 322v7M466 308.5h7M469.5 305v7M466 311.5h7M469.5 308v7M466 312.5h7M469.5 309v7M466 313.5h7M469.5 310v7M466 314.5h7M469.5 311v7M466 319.5h7M469.5 316v7M466 323.5h7M469.5 320v7M466 324.5h7M469.5 321v7M467 309.5h7M470.5 306v7M467 311.5h7M470.5 308v7M467 314.5h7M470.5 311v7M467 315.5h7M470.5 312v7M467 316.5h7M470.5 313v7M467 317.5h7M470.5 314v7M467 320.5h7M470.5 317v7M467 321.5h7M470.5 318v7M467 322.5h7M470.5 319v7M467 323.5h7M470.5 320v7M467 324.5h7M470.5 321v7M468 310.5h7M471.5 307v7M468 311.5h7M471.5 308v7M468 316.5h7M471.5 313v7M468 317.5h7M471.5 314v7M468 319.5h7M471.5 316v7M468 320.5h7M471.5 317v7M468 321.5h7M471.5 318v7M468 324.5h7M471.5 321v7M469 312.5h7M472.5 309v7M469 314.5h7M472.5 311v7M469 316.5h7M472.5 313v7M469 320.5h7M472.5 317v7M469 321.5h7M472.5 318v7M469 322.5h7M472.5 319v7M469 324.5h7M472.5 321v7M469 342.5h7M472.5 339v7M470 312.5h7M473.5 309v7M470 315.5h7M473.5 312v7M470 317.5h7M473.5 314v7M470 322.5h7M473.5 319v7M470 323.5h7M473.5 320v7M470 325.5h7M473.5 322v7M470 342.5h7M473.5 339v7M470 345.5h7M473.5 342v7M471 344.5h7M474.5 341v7M471 345.5h7M474.5 342v7M472 343.5h7M475.5 340v7M472 344.5h7M475.5 341v7M473 344.5h7M476.5 341v7M474 340.5h7M477.5 337v7M474 346.5h7M477.5 343v7M475 327.5h7M478.5 324v7M475 344.5h7M478.5 341v7M476 341.5h7M479.5 338v7M476 343.5h7M479.5 340v7M476 344.5h7M479.5 341v7M476 346.5h7M479.5 343v7M477 339.5h7M480.5 336v7M477 341.5h7M480.5 338v7M478 341.5h7M481.5 338v7M478 342.5h7M481.5 339v7M478 343.5h7M481.5 340v7M478 345.5h7M481.5 342v7M478 346.5h7M481.5 343v7M479 340.5h7M482.5 337v7M479 344.5h7M482.5 341v7M479 346.5h7M482.5 343v7M480 341.5h7M483.5 338v7M480 342.5h7M483.5 339v7M480 343.5h7M483.5 340v7M481 308.5h7M484.5 305v7M481 309.5h7M484.5 306v7M481 310.5h7M484.5 307v7M481 311.5h7M484.5 308v7M481 341.5h7M484.5 338v7M481 343.5h7M484.5 340v7M481 345.5h7M484.5 342v7M482 315.5h7M485.5 312v7M482 316.5h7M485.5 313v7M482 343.5h7M485.5 340v7M482 344.5h7M485.5 341v7M482 347.5h7M485.5 344v7M483 307.5h7M486.5 304v7M483 308.5h7M486.5 305v7M483 309.5h7M486.5 306v7M483 313.5h7M486.5 310v7M483 315.5h7M486.5 312v7M483 340.5h7M486.5 337v7M483 341.5h7M486.5 338v7M483 344.5h7M486.5 341v7M484 312.5h7M487.5 309v7M484 342.5h7M487.5 339v7M484 343.5h7M487.5 340v7M484 344.5h7M487.5 341v7M484 346.5h7M487.5 343v7M485 333.5h7M488.5 330v7M485 334.5h7M488.5 331v7M485 341.5h7M488.5 338v7M485 342.5h7M488.5 339v7M485 344.5h7M488.5 341v7M485 345.5h7M488.5 342v7M485 346.5h7M488.5 343v7M486 329.5h7M489.5 326v7M486 333.5h7M489.5 330v7M486 335.5h7M489.5 332v7M486 340.5h7M489.5 337v7M486 342.5h7M489.5 339v7M486 343.5h7M489.5 340v7M486 346.5h7M489.5 343v7M487 341.5h7M490.5 338v7M487 344.5h7M490.5 341v7M487 345.5h7M490.5 342v7M488 340.5h7M491.5 337v7M488 343.5h7M491.5 340v7M488 344.5h7M491.5 341v7M489 305.5h7M492.5 302v7M489 342.5h7M492.5 339v7M489 343.5h7M492.5 340v7M490 342.5h7M493.5 339v7M491 303.5h7M494.5 300v7M491 305.5h7M494.5 302v7M491 340.5h7M494.5 337v7M491 342.5h7M494.5 339v7M491 343.5h7M494.5 340v7M491 344.5h7M494.5 341v7M492 306.5h7M495.5 303v7M492 309.5h7M495.5 306v7M492 310.5h7M495.5 307v7M492 315.5h7M495.5 312v7M493 308.5h7M496.5 305v7M493 309.5h7M496.5 306v7M493 310.5h7M496.5 307v7M493 313.5h7M496.5 310v7M493 314.5h7M496.5 311v7M493 315.5h7M496.5 312v7M494 304.5h7M497.5 301v7M494 306.5h7M497.5 303v7M494 307.5h7M497.5 304v7M494 308.5h7M497.5 305v7M494 309.5h7M497.5 306v7M494 311.5h7M497.5 308v7M494 315.5h7M497.5 312v7M494 316.5h7M497.5 313v7M495 305.5h7M498.5 302v7M495 306.5h7M498.5 303v7M495 308.5h7M498.5 305v7M495 312.5h7M498.5 309v7M495 313.5h7M498.5 310v7M495 315.5h7M498.5 312v7M495 316.5h7M498.5 313v7M496 306.5h7M499.5 303v7M496 310.5h7M499.5 307v7M496 311.5h7M499.5 308v7M496 312.5h7M499.5 309v7M496 313.5h7M499.5 310v7M496 314.5h7M499.5 311v7M496 324.5h7M499.5 321v7M496 326.5h7M499.5 323v7M496 329.5h7M499.5 326v7M497 306.5h7M500.5 303v7M497 309.5h7M500.5 306v7M497 310.5h7M500.5 307v7M497 313.5h7M500.5 310v7M497 314.5h7M500.5 311v7M497 315.5h7M500.5 312v7M497 326.5h7M500.5 323v7M497 328.5h7M500.5 325v7M497 329.5h7M500.5 326v7M498 303.5h7M501.5 300v7M498 304.5h7M501.5 301v7M498 310.5h7M501.5 307v7M498 311.5h7M501.5 308v7M498 312.5h7M501.5 309v7M498 316.5h7M501.5 313v7M498 322.5h7M501.5 319v7M498 323.5h7M501.5 320v7M498 328.5h7M501.5 325v7M498 331.5h7M501.5 328v7M499 303.5h7M502.5 300v7M499 305.5h7M502.5 302v7M499 311.5h7M502.5 308v7M500 305.5h7M503.5 302v7M500 306.5h7M503.5 303v7M500 309.5h7M503.5 306v7M500 311.5h7M503.5 308v7M500 313.5h7M503.5 310v7M500 314.5h7M503.5 311v7M500 316.5h7M503.5 313v7M500 317.5h7M503.5 314v7M501 304.5h7M504.5 301v7M501 307.5h7M504.5 304v7M501 310.5h7M504.5 307v7M501 314.5h7M504.5 311v7M501 315.5h7M504.5 312v7M502 305.5h7M505.5 302v7M502 307.5h7M505.5 304v7M502 312.5h7M505.5 309v7M502 314.5h7M505.5 311v7M502 315.5h7M505.5 312v7M503 303.5h7M506.5 300v7M503 304.5h7M506.5 301v7M503 305.5h7M506.5 302v7M503 306.5h7M506.5 303v7M503 308.5h7M506.5 305v7M503 309.5h7M506.5 306v7M503 311.5h7M506.5 308v7M503 315.5h7M506.5 312v7M503 316.5h7M506.5 313v7M503 317.5h7M506.5 314v7M504 304.5h7M507.5 301v7M504 306.5h7M507.5 303v7M504 307.5h7M507.5 304v7M504 309.5h7M507.5 306v7M504 341.5h7M507.5 338v7M504 342.5h7M507.5 339v7M505 304.5h7M508.5 301v7M505 308.5h7M508.5 305v7M505 309.5h7M508.5 306v7M505 339.5h7M508.5 336v7M505 340.5h7M508.5 337v7M506 305.5h7M509.5 302v7M506 306.5h7M509.5 303v7M506 307.5h7M509.5 304v7M506 308.5h7M509.5 305v7M506 310.5h7M509.5 307v7M506 311.5h7M509.5 308v7M506 313.5h7M509.5 310v7M506 328.5h7M509.5 325v7M507 327.5h7M510.5 324v7M507 328.5h7M510.5 325v7M508 330.5h7M511.5 327v7M508 331.5h7M511.5 328v7M508 333.5h7M511.5 330v7M508 334.5h7M511.5 331v7M508 335.5h7M511.5 332v7M509 308.5h7M512.5 305v7M509 328.5h7M512.5 325v7M509 330.5h7M512.5 327v7M509 332.5h7M512.5 329v7M510 323.5h7M513.5 320v7M510 326.5h7M513.5 323v7M510 327.5h7M513.5 324v7M510 334.5h7M513.5 331v7M511 325.5h7M514.5 322v7M511 328.5h7M514.5 325v7M511 333.5h7M514.5 330v7M511 334.5h7M514.5 331v7M512 325.5h7M515.5 322v7M512 326.5h7M515.5 323v7M512 330.5h7M515.5 327v7M512 331.5h7M515.5 328v7M512 333.5h7M515.5 330v7M513 325.5h7M516.5 322v7M513 327.5h7M516.5 324v7M513 329.5h7M516.5 326v7M513 332.5h7M516.5 329v7M514 327.5h7M517.5 324v7M514 333.5h7M517.5 330v7M514 334.5h7M517.5 331v7M514 335.5h7M517.5 332v7M515 325.5h7M518.5 322v7M515 326.5h7M518.5 323v7M515 328.5h7M518.5 325v7M515 331.5h7M518.5 328v7M515 335.5h7M518.5 332v7M516 306.5h7M519.5 303v7M516 327.5h7M519.5 324v7M516 329.5h7M519.5 326v7M516 330.5h7M519.5 327v7M516 332.5h7M519.5 329v7M516 333.5h7M519.5 330v7M516 334.5h7M519.5 331v7M517 304.5h7M520.5 301v7M517 309.5h7M520.5 306v7M517 325.5h7M520.5 322v7M517 330.5h7M520.5 327v7M517 331.5h7M520.5 328v7M517 333.5h7M520.5 330v7M517 334.5h7M520.5 331v7M518 303.5h7M521.5 300v7M518 304.5h7M521.5 301v7M518 309.5h7M521.5 306v7M518 310.5h7M521.5 307v7M518 328.5h7M521.5 325v7M519 303.5h7M522.5 300v7M519 309.5h7M522.5 306v7M520 306.5h7M523.5 303v7M520 307.5h7M523.5 304v7M520 320.5h7M523.5 317v7M520 332.5h7M523.5 329v7M521 326.5h7M524.5 323v7M521 334.5h7M524.5 331v7M521 338.5h7M524.5 335v7M522 321.5h7M525.5 318v7M522 323.5h7M525.5 320v7M522 331.5h7M525.5 328v7M522 333.5h7M525.5 330v7M522 334.5h7M525.5 331v7M522 338.5h7M525.5 335v7M523 320.5h7M526.5 317v7M523 321.5h7M526.5 318v7M523 332.5h7M526.5 329v7M523 335.5h7M526.5 332v7M523 336.5h7M526.5 333v7M523 337.5h7M526.5 334v7M523 338.5h7M526.5 335v7M523 339.5h7M526.5 336v7M523 341.5h7M526.5 338v7M524 329.5h7M527.5 326v7M524 331.5h7M527.5 328v7M524 334.5h7M527.5 331v7M524 339.5h7M527.5 336v7M524 340.5h7M527.5 337v7M525 333.5h7M528.5 330v7M525 334.5h7M528.5 331v7M525 336.5h7M528.5 333v7M525 339.5h7M528.5 336v7M525 341.5h7M528.5 338v7M526 337.5h7M529.5 334v7M526 338.5h7M529.5 335v7M526 340.5h7M529.5 337v7M527 335.5h7M530.5 332v7M527 336.5h7M530.5 333v7M528 335.5h7M531.5 332v7M529 315.5h7M532.5 312v7M529 316.5h7M532.5 313v7M529 337.5h7M532.5 334v7M529 339.5h7M532.5 336v7M530 314.5h7M533.5 311v7M530 317.5h7M533.5 314v7M531 313.5h7M534.5 310v7M532 312.5h7M535.5 309v7M532 314.5h7M535.5 311v7M532 318.5h7M535.5 315v7M532 319.5h7M535.5 316v7M533 312.5h7M536.5 309v7M533 313.5h7M536.5 310v7M533 314.5h7M536.5 311v7M533 315.5h7M536.5 312v7M533 316.5h7M536.5 313v7M534 314.5h7M537.5 311v7M534 315.5h7M537.5 312v7M534 316.5h7M537.5 313v7M534 317.5h7M537.5 314v7M534 318.5h7M537.5 315v7M535 314.5h7M538.5 311v7M535 317.5h7M538.5 314v7M535 318.5h7M538.5 315v7M535 338.5h7M538.5 335v7M536 312.5h7M539.5 309v7M536 313.5h7M539.5 310v7M536 316.5h7M539.5 313v7M537 312.5h7M540.5 309v7M537 314.5h7M540.5 311v7M537 317.5h7M540.5 314v7M537 318.5h7M540.5 315v7M538 317.5h7M541.5 314v7M539 314.5h7M542.5 311v7M539 316.5h7M542.5 313v7M540 313.5h7M543.5 310v7M540 315.5h7M543.5 312v7M540 316.5h7M543.5 313v7M540 317.5h7M543.5 314v7M541 313.5h7M544.5 310v7M541 314.5h7M544.5 311v7M541 316.5h7M544.5 313v7M543 312.5h7M546.5 309v7M543 313.5h7M546.5 310v7M543 316.5h7M546.5 313v7M544 312.5h7M547.5 309v7M544 313.5h7M547.5 310v7M544 314.5h7M547.5 311v7M545 312.5h7M548.5 309v7M545 315.5h7M548.5 312v7M545 316.5h7M548.5 313v7M546 312.5h7M549.5 309v7M546 313.5h7M549.5 310v7M547 312.5h7M550.5 309v7M547 315.5h7M550.5 312v7M547 318.5h7M550.5 315v7M548 311.5h7M551.5 308v7M548 312.5h7M551.5 309v7M548 313.5h7M551.5 310v7M548 314.5h7M551.5 311v7M548 317.5h7M551.5 314v7M549 314.5h7M552.5 311v7M550 311.5h7M553.5 308v7M550 317.5h7M553.5 314v7M551 308.5h7M554.5 305v7M551 314.5h7M554.5 311v7M551 316.5h7M554.5 313v7M552 317.5h7M555.5 314v7M553 313.5h7M556.5 310v7M553 316.5h7M556.5 313v7M555 316.5h7M558.5 313v7M556 311.5h7M559.5 308v7M556 313.5h7M559.5 310v7M557 305.5h7M560.5 302v7M557 314.5h7M560.5 311v7M557 317.5h7M560.5 314v7"/>
</g>
</svg>
</body></html>
